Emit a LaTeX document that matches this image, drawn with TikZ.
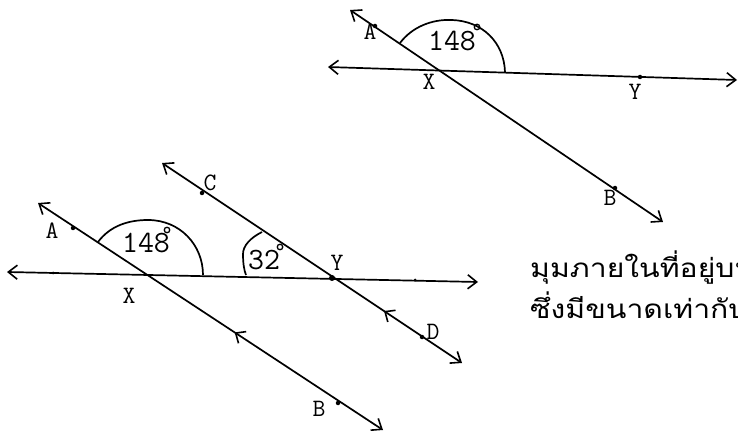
\documentclass[tikz,border=0pt]{standalone}
\usepackage{fontspec}
\newfontfamily\thaifont[Script=Thai]{Loma}
\usetikzlibrary{arrows.meta,decorations.markings}
\tikzset{
  ln/.style={line width=1.7pt,{Straight Barb[length=9pt,width=14pt,line width=1.6pt]}-{Straight Barb[length=9pt,width=14pt,line width=1.6pt]}},
  arcl/.style={line width=1.7pt},
  lbl/.style={font=\ttfamily\fontsize{25}{25}\selectfont,inner sep=0pt},
  num/.style={font=\ttfamily\fontsize{31}{31}\selectfont,inner sep=0pt},
  pt/.style={circle,fill,inner sep=0pt,minimum size=4.5pt},
  deg/.style={circle,draw,line width=1.3pt,inner sep=0pt,minimum size=5.5pt},
  parmark/.style={postaction={decorate},decoration={markings,
     mark=at position #1 with {\arrow{Straight Barb[length=8pt,width=14pt,line width=1.6pt]}}}},
  thai/.style={font=\thaifont\fontsize{26}{26}\selectfont,inner sep=0pt,anchor=base west}
}
\begin{document}
\begin{tikzpicture}[x=1pt,y=-1pt]
\useasboundingbox (0,0) rectangle (738,435);
% ---------- top figure ----------
\coordinate (tH1) at (328,67);
\coordinate (tH2) at (737,80);
\coordinate (tT1) at (350,10);
\coordinate (tT2) at (663,222);
\draw[ln] (tH1) -- (tH2);
\draw[ln] (tT1) -- (tT2);
\node[pt] (tA) at (375,26) {};
\node[pt] (tB) at (615,188) {};
\node[pt] (tY) at (640,77) {};
\draw[arcl] (400,43) .. controls (412,27) and (432,19) .. (452,20)
            .. controls (482,21) and (504,42) .. (505,72);
\node[deg] (tdeg) at (477,27) {};
\node[num] (t148) at (452,41) {148};
\node[lbl] (tAl) at (370,32) {A};
\node[lbl] (tXl) at (429,82) {X};
\node[lbl] (tYl) at (635,92) {Y};
\node[lbl] (tBl) at (610,198) {B};
% ---------- bottom figure ----------
\coordinate (bH1) at (7,272);
\coordinate (bH2) at (478,282);
\coordinate (bA1) at (38,203);
\coordinate (bA2) at (383,430);
\coordinate (bC1) at (162,163);
\coordinate (bC2) at (462,363);
\draw[ln] (bH1) -- (bH2);
\draw[ln,parmark=0.43] (bA2) -- (bA1);
\draw[ln,parmark=0.26] (bC2) -- (bC1);
\node[pt] (bA) at (73,228) {};
\node[pt] (bB) at (338,403) {};
\node[pt] (bC) at (202,193) {};
\node[pt] (bD) at (422,337) {};
\node[pt,minimum size=6pt] (bY) at (332,278) {};
\node[pt,minimum size=3pt] (bh1) at (53,273) {};
\node[pt,minimum size=3pt] (bh2) at (415,280) {};
\draw[arcl] (98,242) .. controls (110,226) and (128,220) .. (148,220)
            .. controls (180,220) and (203,245) .. (203,275);
\draw[arcl] (262,232) .. controls (250,238) and (243,246) .. (243,254)
            .. controls (243,263) and (244,270) .. (246,275);
\node[deg] (bdeg1) at (167,230) {};
\node[deg] (bdeg2) at (280,247) {};
\node[num] (b148) at (146,243) {148};
\node[num] (b32) at (264,260) {32};
\node[lbl] (bAl) at (52,231) {A};
\node[lbl] (bXl) at (129,296) {X};
\node[lbl] (bYl) at (337,263) {Y};
\node[lbl] (bCl) at (210,183) {C};
\node[lbl] (bDl) at (433,332) {D};
\node[lbl] (bBl) at (319,409) {B};
% ---------- Thai text ----------
\node[thai] (th1) at (530,278) {\scalebox{1.16}[1]{มุมภายในที่อยู่บน}};
\node[thai] (th2) at (530,318) {\scalebox{1.16}[1]{ซึ่งมีขนาดเท่ากับ}};
\end{tikzpicture}
\end{document}
